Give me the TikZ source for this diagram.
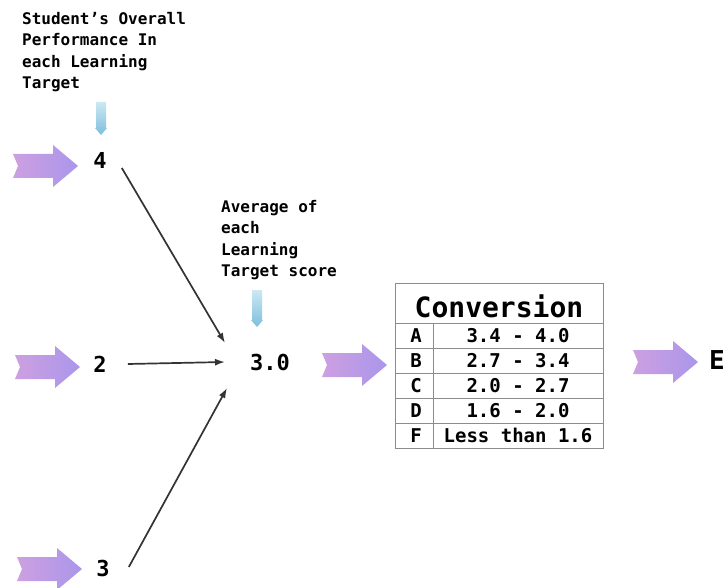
\documentclass[tikz,border=0pt]{standalone}
\usepackage{fontspec}
\setmainfont{DejaVu Sans Mono}
\usepackage{tikz}
\usetikzlibrary{arrows.meta}
\definecolor{arrowpink}{RGB}{205,160,225}
\definecolor{arrowviolet}{RGB}{170,150,235}
\definecolor{icetop}{RGB}{205,232,242}
\definecolor{icebottom}{RGB}{125,190,222}
\def\fatarrow(#1,#2){\shade[left color=arrowpink, right color=arrowviolet, shift={(#1,#2)}] (0,-12) -- (40,-12) -- (40,-21) -- (65,0) -- (40,21) -- (40,12) -- (0,12) -- (5,0) -- cycle;}
\def\icearrow(#1,#2:#3){\shade[top color=icetop, bottom color=icebottom, shift={(#1,#2)}] (-5,0) -- (5,0) -- (5,#3-7) -- (6,#3-7) -- (0,#3) -- (-6,#3-7) -- (-5,#3-7) -- cycle;}

\begin{document}
\begin{tikzpicture}[x=1pt, y=-1pt,
	label/.style={inner sep=0pt, anchor=north west, align=left, font=\bfseries\fontsize{16}{21.5}\selectfont},
	score/.style={inner sep=1pt, font=\bfseries\fontsize{22}{24}\selectfont},
	cell/.style={inner sep=0pt, font=\bfseries\fontsize{19}{20}\selectfont},
	link/.style={draw=black!80, line width=1.7pt, -{Latex[length=10pt, width=7pt]}}]
		%%%%% START %%%%%
		
		\fill[white] (0,0) rectangle (725,588);
		\useasboundingbox (0,0) rectangle (725,588);
		
		% headings
		\node[label] (perf) at (22,12) {Student's Overall\\Performance In\\each Learning\\Target};
		\node[label] (avgtext) at (221,200) {Average of\\each\\Learning\\Target score};
		
		\icearrow(101,102:33)
		\icearrow(257,290:37)
		
		% learning target scores
		\fatarrow(13,166)
		\node[score] (n4) at (100,160) {4};
		\fatarrow(15,367)
		\node[score] (n2) at (100,364) {2};
		\fatarrow(17,569)
		\node[score] (n3) at (103,568) {3};
		
		\node[score] (avg) at (270,362) {3.0};
		\coordinate (avgin1) at (225,343);
		\coordinate (avgin2) at (225,362);
		\coordinate (avgin3) at (227,388);
		
		\draw[link] ([xshift=14pt, yshift=-8pt]n4.east) -- (avgin1);
		\draw[link] ([xshift=20pt]n2.east) -- (avgin2);
		\draw[link] ([xshift=18pt, yshift=1pt]n3.east) -- (avgin3);
		
		\fatarrow(322,365)
		
		% conversion table
		\draw[line width=0.8pt, color=black!45] (395,283) rectangle (603,448);
		\node[inner sep=0pt, font=\bfseries\fontsize{28}{30}\selectfont] (conv) at (499,306) {Conversion};
		\foreach \y in {323,348,373,398,423}
			\draw[line width=0.8pt, color=black!45] (395,\y) -- (603,\y);
		\draw[line width=0.8pt, color=black!45] (433,323) -- (433,448);
		\foreach \g/\r [count=\i] in {A/3.4 - 4.0, B/2.7 - 3.4, C/2.0 - 2.7, D/1.6 - 2.0, F/Less than 1.6}
		{
			\node[cell] (grade\i) at (416,335.5+25*\i-25) {\g};
			\node[cell] (range\i) at (518,335.5+25*\i-25) {\r};
		}
		
		\fatarrow(633,362)
		\node[inner sep=0pt, anchor=east, font=\bfseries\fontsize{26}{28}\selectfont] (grade) at (725,360) {E};
		
		%%%%% END %%%%%
\end{tikzpicture}
\end{document}
